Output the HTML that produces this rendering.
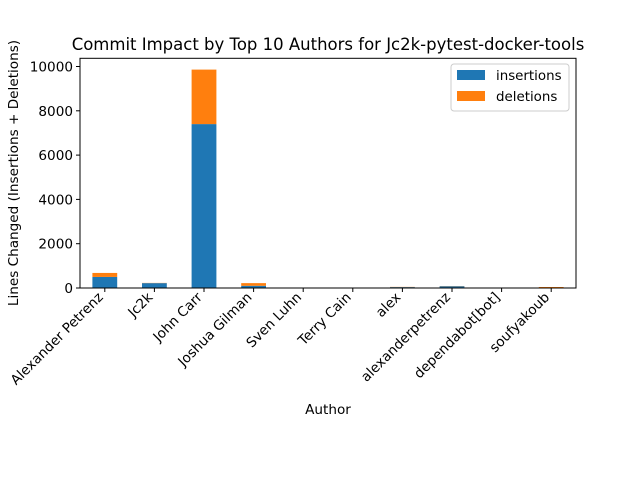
<!DOCTYPE html>
<html><head><meta charset="utf-8"><style>
body{margin:0;background:#fff;}
svg{display:block;font-family:"DejaVu Sans","Liberation Sans",sans-serif;}
</style></head><body>
<svg id="chart" width="640" height="480">
<rect width="640" height="480" fill="#fff"/>
<text x="328" y="50" font-size="16.5" text-anchor="middle">Commit Impact by Top 10 Authors for Jc2k-pytest-docker-tools</text>
<text transform="translate(18,173) rotate(-90)" font-size="13.6" text-anchor="middle">Lines Changed (Insertions + Deletions)</text>
<text x="328" y="414" font-size="13.6" text-anchor="middle">Author</text>
<g id="marks"></g>
<g id="axes"></g>
<rect x="80" y="58.3" width="496" height="229.7" fill="none" stroke="#000" stroke-width="1"/>
<g>
<rect x="451" y="64" width="118" height="47" fill="#fff" stroke="#ccc" rx="3"/>
<rect x="457" y="70" width="28" height="10" fill="#1f77b4"/>
<text x="496" y="80" font-size="13.4">insertions</text>
<rect x="457" y="91" width="28" height="10" fill="#ff7f0e"/>
<text x="496" y="101" font-size="13.4">deletions</text>
</g>
</svg>
<script>
const authors=["Alexander Petrenz","Jc2k","John Carr","Joshua Gilman","Sven Luhn","Terry Cain","alex","alexanderpetrenz","dependabot[bot]","soufyakoub"];
const insertions=[500,220,7400,100,5,5,40,80,5,15];
const deletions=[180,10,2460,120,3,3,10,10,3,30];
const yTicks=[0,2000,4000,6000,8000,10000];
const NS="http://www.w3.org/2000/svg";
const x0=80,pw=496,yb=288,ppu=221.5/10000;
function xs(i){return x0+pw*(i+0.5)/authors.length;}
function ys(v){return yb-v*ppu;}
function mk(tag,attrs,parent){const e=document.createElementNS(NS,tag);for(const k in attrs)e.setAttribute(k,attrs[k]);parent.appendChild(e);return e;}
const marks=document.getElementById('marks'),axes=document.getElementById('axes');
const bw=pw/authors.length*0.5;
authors.forEach((a,i)=>{
 const b=mk('rect',{x:xs(i)-bw/2,y:ys(insertions[i]),width:bw,height:yb-ys(insertions[i]),fill:'#1f77b4'},marks);
 
 
 const d=mk('rect',{x:xs(i)-bw/2,y:ys(insertions[i]+deletions[i]),width:bw,height:ys(insertions[i])-ys(insertions[i]+deletions[i]),fill:'#ff7f0e'},marks);
 
 
 const t=mk('line',{x1:xs(i),x2:xs(i),y1:yb,y2:yb+4,stroke:'#000'},axes);
 
 
 const l=mk('text',{transform:`translate(${xs(i)-1},${yb+10}) rotate(-45)`,'font-size':13.6,'text-anchor':'end'},axes);
 l.textContent=a;
 
 
});
yTicks.forEach(v=>{
 const t=mk('line',{x1:x0-4,x2:x0,y1:ys(v),y2:ys(v),stroke:'#000'},axes);
 
 
 const l=mk('text',{x:x0-7,y:ys(v)+5,'font-size':13.6,'text-anchor':'end'},axes);
 l.textContent=v;
 
 
});
</script>
</body></html>
